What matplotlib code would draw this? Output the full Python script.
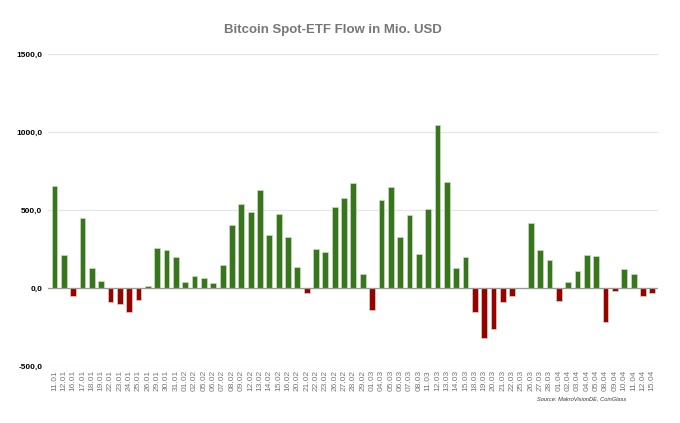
import matplotlib.pyplot as plt
import numpy as np

dates = ['11.01', '12.01', '16.01', '17.01', '18.01', '19.01', '22.01', '23.01', '24.01', '25.01',
         '26.01', '29.01', '30.01', '31.01', '01.02', '02.02', '05.02', '06.02', '07.02', '08.02',
         '09.02', '12.02', '13.02', '14.02', '15.02', '16.02', '20.02', '21.02', '22.02', '23.02',
         '26.02', '27.02', '28.02', '29.02', '01.03', '04.03', '05.03', '06.03', '07.03', '08.03',
         '11.03', '12.03', '13.03', '14.03', '15.03', '18.03', '19.03', '20.03', '21.03', '22.03',
         '25.03', '26.03', '27.03', '28.03', '01.04', '02.04', '03.04', '04.04', '05.04', '08.04',
         '09.04', '10.04', '11.04', '12.04', '15.04']
flows = [652, 214, -51, 451, 126, 43, -88, -105, -156, -79,
         13, 254, 246, 197, 36, 79, 66, 32, 145, 402,
         538, 489, 630, 338, 476, 329, 132, -34, 248, 231,
         517, 575, 671, 92, -139, 562, 645, 329, 470, 220,
         504, 1043, 682, 128, 197, -152, -323, -263, -92, -51,
         0, 415, 241, 182, -83, 38, 111, 209, 203, -220,
         -17, 122, 90, -53, -34]

green = '#38761d'
red = '#990000'

plt.rcParams['font.family'] = ['Liberation Sans Narrow', 'Liberation Sans', 'DejaVu Sans']

fig = plt.figure(figsize=(6.8, 4.23), dpi=100)
ax = fig.add_axes([0.0705, 0.1348, 0.897, 0.7375])

x = np.arange(len(dates))
vals = np.array(flows)
colors = [green if v >= 0 else red for v in vals]
ax.bar(x, vals, width=0.62, color=colors, edgecolor='#c9dcc0', linewidth=0.5, zorder=3)

ax.set_xlim(-0.7, len(dates) - 0.4)
ax.set_ylim(-500, 1500)
ax.set_yticks([-500, 0, 500, 1000, 1500])
ax.set_yticklabels(['-500,0', '0,0', '500,0', '1000,0', '1500,0'],
                   fontsize=6, fontweight='bold', color='black')
ax.set_xticks(x)
ax.set_xticklabels(dates, rotation=90, fontsize=6, color='#777777')
ax.tick_params(axis='both', length=0, pad=3)
ax.tick_params(axis='y', pad=4)

ax.grid(axis='y', color='#e6e6e6', linewidth=0.9, zorder=0)
ax.axhline(0, color='#999999', linewidth=0.9, zorder=4)
for s in ax.spines.values():
    s.set_visible(False)

fig.text(0.489, 0.93, 'Bitcoin Spot-ETF Flow in Mio. USD', ha='center', va='center',
         fontsize=9.5, fontweight='bold', color='#777777')
fig.text(0.856, 0.057, 'Source: MakroVisionDE, CoinGlass', ha='center', va='center',
         fontsize=4.1, style='italic', color='#333333')

fig.savefig('out.png', dpi=100)
